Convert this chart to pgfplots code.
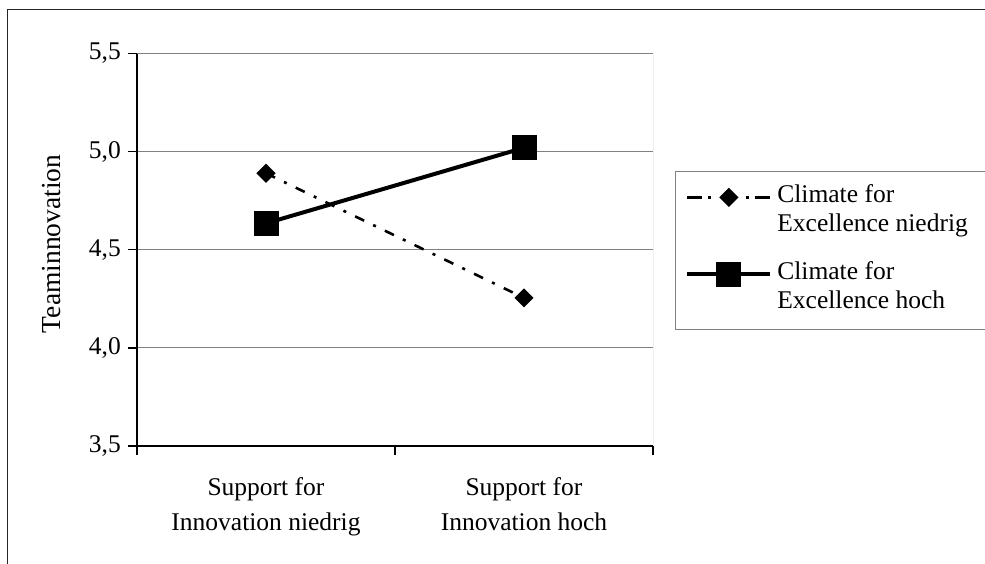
\documentclass[border=0pt]{standalone}
\usepackage{fontspec}
\setmainfont{Liberation Serif}
\usepackage{pgfplots}
\pgfplotsset{compat=1.18}
\newcommand\lsta{\rule{0pt}{20pt}}
\pgfplotsset{
  myleg/.style={legend image code/.code={\draw[mark repeat=2,mark phase=2,##1] plot coordinates {(0pt,0pt) (41.5pt,0pt) (83pt,0pt)};}},
  dashleg/.style={legend image code/.code={\draw[mark repeat=2,mark phase=2,##1, dash pattern=on 15pt off 6pt on 3pt off 35pt on 3pt off 6pt on 15pt] plot coordinates {(0pt,0pt) (41.5pt,0pt) (83pt,0pt)};}},
}
\begin{document}
\begin{tikzpicture}
\useasboundingbox (0pt,0pt) rectangle (985pt,563pt);
\draw[line width=1.5pt, black!85] (7.5pt,-20pt) -- (7.5pt,553.5pt) -- (1000pt,553.5pt);
\begin{axis}[
  at={(137pt,117pt)}, anchor=south west,
  scale only axis, width=516pt, height=392.4pt,
  xmin=0, xmax=2, ymin=3.5, ymax=5.5,
  axis x line*=bottom, axis y line*=left,
  axis line style={black, line width=1.2pt, -},
  xtick={0,1,2}, xticklabels={,,},
  extra x ticks={0.5,1.5},
  extra x tick labels={{Support for\\Innovation niedrig},{Support for\\Innovation hoch}},
  extra x tick style={major tick length=0pt, tick label style={align=center, inner sep=0pt, yshift=-31pt, font=\fontsize{25.5}{35}\selectfont}},
  ytick={3.5,4,4.5,5,5.5},
  tick align=outside, major tick length=9pt,
  tick style={black, line width=1.2pt},
  ymajorgrids, grid style={gray, line width=1pt},
  /pgf/number format/assume math mode=true,
  yticklabel style={/pgf/number format/use comma, /pgf/number format/fixed, /pgf/number format/fixed zerofill, /pgf/number format/precision=1},
  y tick label style={inner sep=0pt, xshift=-7pt, font=\fontsize{25.5}{30}\selectfont},
  ylabel={Teaminnovation},
  every axis y label/.style={at={(axis description cs:-0.1647,0.515)}, rotate=90, anchor=center, font=\fontsize{27.5}{30}\selectfont},
  legend style={at={(axis description cs:1.0426,0.7008)}, anchor=north west,
    draw=gray, line width=0.8pt, inner xsep=10pt, inner ysep=11.5pt,
    row sep=0pt, column sep=5pt,
    font=\fontsize{25.5}{29}\selectfont,
    nodes={inner sep=0pt, text depth=9pt}, cells={anchor=west}},
  myleg,
]
\draw[gray, line width=1pt] (rel axis cs:1,0) -- (rel axis cs:1,1);
\addplot[black, line width=2.6pt, dash pattern=on 10pt off 10pt on 3pt off 10pt,
  mark=square*, mark size=5.5pt, mark options={solid, rotate=45}, dashleg]
  coordinates {(0.5,4.89) (1.5,4.255)};
\addlegendentry{\lsta Climate for}
\addlegendimage{empty legend}
\addlegendentry{\lsta Excellence niedrig\hspace{40pt}\null}
\addlegendimage{empty legend}
\addlegendentry{\rule{0pt}{10pt}}
\addplot[black, line width=4pt, solid, mark=square*, mark size=10.5pt, mark options={solid}]
  coordinates {(0.5,4.635) (1.5,5.02)};
\addlegendentry{\lsta Climate for}
\addlegendimage{empty legend}
\addlegendentry{\lsta Excellence hoch}
\end{axis}
\end{tikzpicture}
\end{document}
